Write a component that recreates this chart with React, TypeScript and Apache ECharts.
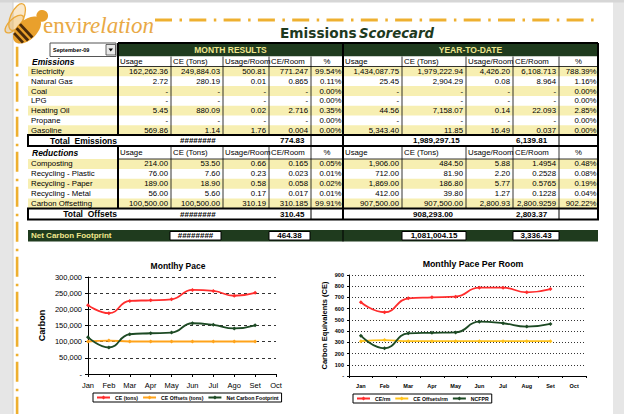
import React, { useEffect, useRef } from "react";
import * as echarts from "echarts";

// ---------- chart data ----------
const months = ["Jan", "Feb", "Mar", "Apr", "May", "Jun", "Jul", "Ago", "Set", "Oct"];
const monthsRoom = ["Jan", "Feb", "Mar", "Apr", "May", "Jun", "Jul", "Aug", "Set", "Oct"];
const ceTons = [213000, 188000, 226000, 228000, 231000, 260000, 257000, 242000, 251045];
const offsetTons = [100500, 103500, 100500, 100500, 100500, 100500, 100500, 100500, 100500];
const netTons = [114000, 82000, 123000, 126000, 128000, 157000, 152000, 141000, 150545];
const ceRoom = [657, 568, 692, 701, 707, 787, 787, 746, 774.83];
const offsetRoom = [310.45, 320, 310.45, 310.45, 310.45, 310.45, 310.45, 310.45, 310.45];
const ncfpr = [359, 247, 380, 385, 388, 484, 470, 440, 464.38];

// ---------- table data ----------
const colHeads = ["Usage", "CE (Tons)", "Usage/Room", "CE/Room", "%"];
const emissionRows = ["Electricity", "Natural Gas", "Coal", "LPG", "Heating Oil", "Propane", "Gasoline"];
const emMonthUsage = ["162,262.36", "2.72", "-", "-", "5.45", "-", "569.86"];
const emMonthCE = ["249,884.03", "280.19", "-", "-", "880.09", "-", "1.14"];
const emMonthUsageRoom = ["500.81", "0.01", "-", "-", "0.02", "-", "1.76"];
const emMonthCERoom = ["771.247", "0.865", "-", "-", "2.716", "-", "0.004"];
const emMonthPct = ["99.54%", "0.11%", "0.00%", "0.00%", "0.35%", "0.00%", "0.00%"];
const emYtdUsage = ["1,434,087.75", "25.45", "-", "-", "44.56", "-", "5,343.40"];
const emYtdCE = ["1,979,222.94", "2,904.29", "-", "-", "7,158.07", "-", "11.85"];
const emYtdUsageRoom = ["4,426.20", "0.08", "-", "-", "0.14", "-", "16.49"];
const emYtdCERoom = ["6,108.713", "8.964", "-", "-", "22.093", "-", "0.037"];
const emYtdPct = ["788.39%", "1.16%", "0.00%", "0.00%", "2.85%", "0.00%", "0.00%"];
const emTotals = ["########", "774.83", "1,989,297.15", "6,139.81"];

const reductionRows = ["Composting", "Recycling - Plastic", "Recycling - Paper", "Recycling - Metal", "Carbon Offsetting"];
const reMonthUsage = ["214.00", "76.00", "189.00", "56.00", "100,500.00"];
const reMonthCE = ["53.50", "7.60", "18.90", "5.60", "100,500.00"];
const reMonthUsageRoom = ["0.66", "0.23", "0.58", "0.17", "310.19"];
const reMonthCERoom = ["0.165", "0.023", "0.058", "0.017", "310.185"];
const reMonthPct = ["0.05%", "0.01%", "0.02%", "0.01%", "99.91%"];
const reYtdUsage = ["1,906.00", "712.00", "1,869.00", "412.00", "907,500.00"];
const reYtdCE = ["484.50", "81.90", "186.80", "39.80", "907,500.00"];
const reYtdUsageRoom = ["5.88", "2.20", "5.77", "1.27", "2,800.93"];
const reYtdCERoom = ["1.4954", "0.2528", "0.5765", "0.1228", "2,800.9259"];
const reYtdPct = ["0.48%", "0.08%", "0.19%", "0.04%", "902.22%"];
const reTotals = ["########", "310.45", "908,293.00", "2,803.37"];
const netTotals = ["########", "464.38", "1,081,004.15", "3,336.43"];

const SANS = "'Liberation Sans', Arial, sans-serif";
const NARROW = "'Liberation Sans Narrow', 'Liberation Sans', Arial, sans-serif";
const DARK = "#1f3b1e";
const YELLOW = "#f7efb2";
const GOLD = "#eeb030";
const COLS = [28, 118, 171, 223, 269, 311, 343, 402, 466, 513, 559, 598];

function buildGraphics(): any[] {
  const g: any[] = [];
  const R = (x: number, y: number, w: number, h: number, fill: string, stroke?: string, lw?: number) =>
    g.push({ type: "rect", silent: true, shape: { x, y, width: w, height: h }, style: { fill, stroke: stroke || null, lineWidth: lw || 0 } });
  const L = (x1: number, y1: number, x2: number, y2: number, lw = 1, stroke = "#000") =>
    g.push({ type: "line", silent: true, shape: { x1, y1, x2, y2 }, style: { stroke, lineWidth: lw } });
  const T = (x: number, y: number, text: string, size: number, o: any = {}) =>
    g.push({
      type: "text", silent: true, x, y,
      style: {
        text, fontSize: size, fontFamily: o.family || SANS, fontWeight: o.weight || "normal",
        fontStyle: o.style || "normal", fill: o.color || "#000",
        align: o.align || "left", textAlign: o.align || "left",
        verticalAlign: "middle", textVerticalAlign: "middle",
      },
    });

  // page background strips
  R(0, 0, 13, 414, "#e6e6e6");
  R(613, 0, 11, 414, "#e6e6e6");
  R(0, 0, 624, 2.5, "#d6d6d6");
  L(13, 0, 13, 414, 1, "#d0d0d0");

  // decorative dash-dot lines
  for (let k = 0; k < 13; k++) {
    const x = 155 + k * 34.3;
    R(x, 18.5, 17, 3, GOLD);
    R(x + 24.5, 18.5, 2.5, 3, GOLD);
  }
  for (let y = 46.7; y < 414; y += 35) {
    R(15.8, y, 2.6, 20, GOLD);
    R(15.8, y + 27, 2.6, 2.5, GOLD);
  }

  // bee logo
  g.push({
    type: "group", x: 27, y: 30, rotation: 0.75, scaleX: 1.3, scaleY: 1.3, silent: true,
    children: [
      { type: "ellipse", shape: { cx: 6, cy: -11, rx: 11, ry: 5 }, rotation: 0.4, style: { fill: "rgba(240,180,80,0.3)", stroke: "#eaa93a", lineWidth: 1 } },
      { type: "ellipse", shape: { cx: -4, cy: -10, rx: 9, ry: 4 }, style: { fill: "rgba(240,180,80,0.25)", stroke: "#eaa93a", lineWidth: 1 } },
      { type: "ellipse", shape: { cx: 0, cy: 0, rx: 13, ry: 7.5 }, style: { fill: "#e9a02c" } },
      { type: "rect", shape: { x: -10, y: -5, width: 2.2, height: 10 }, style: { fill: "#4a2a0a" } },
      { type: "rect", shape: { x: -6, y: -6.5, width: 2.2, height: 13 }, style: { fill: "#4a2a0a" } },
      { type: "rect", shape: { x: -2, y: -7, width: 2.2, height: 14 }, style: { fill: "#4a2a0a" } },
      { type: "circle", shape: { cx: 16, cy: 0, r: 4.5 }, style: { fill: "#e9a02c" } },
    ],
  });
  T(43, 25.5, "envi", 23, { family: "'Liberation Serif', 'DejaVu Serif', serif", color: "#e9a945" });
  T(82, 25.5, "relation", 23, { family: "'Liberation Serif', 'DejaVu Serif', serif", color: "#e9a945", style: "italic" });

  // title
  T(280, 33, "Emissions", 13.7, { family: "'DejaVu Sans', sans-serif", weight: "bold", color: "#1e3a1e" });
  T(359, 33, "Scorecard", 13.3, { family: "'DejaVu Sans', sans-serif", weight: "bold", style: "italic", color: "#1e3a1e" });

  // dropdown
  R(50, 43, 66, 13.5, "#fff", "#555", 1);
  T(53, 50, "September-09", 5.5, { weight: "bold" });
  R(106, 44.5, 9.5, 10.5, "#e8e8e8", "#444", 0.8);
  g.push({ type: "polygon", silent: true, shape: { points: [[108.5, 48.5], [113, 48.5], [110.75, 51.5]] }, style: { fill: "#000" } });

  const drawSection = (
    headerTop: number, headTop: number, rowTop: number, rowH: number,
    labels: string[], cols: string[][], totals: string[], sectionLabel: string, totalLabel: string
  ) => {
    const rowsEnd = rowTop + rowH * labels.length;
    R(118, headTop, 480, rowTop - headTop, "#fff");
    T(32, (headTop + rowTop) / 2, sectionLabel, 8.5, { weight: "bold", style: "italic" });
    for (let b = 0; b < 2; b++) {
      for (let c = 0; c < 5; c++) {
        const ci = 1 + b * 5 + c;
        const cy = (headTop + rowTop) / 2;
        if (c === 4) T((COLS[ci] + COLS[ci + 1]) / 2, cy, colHeads[c], 7.8, { align: "center" });
        else T(COLS[ci] + 2, cy, colHeads[c], 7.8);
      }
    }
    labels.forEach((lab, i) => {
      const y0 = rowTop + i * rowH;
      if (i % 2 === 0) R(28, y0, 570, rowH, YELLOW);
      T(31, y0 + rowH / 2, lab, 7.8);
      cols.forEach((arr, c) => {
        const ci = 1 + c;
        const pad = c === 4 || c === 9 ? 1.5 : 3;
        T(COLS[ci + 1] - pad, y0 + rowH / 2, arr[i], 7.8, { align: "right" });
      });
    });
    for (let ci = 1; ci <= 11; ci++) {
      const thick = ci === 1 || ci === 6 || ci === 11;
      L(COLS[ci], thick ? headerTop : headTop, COLS[ci], rowsEnd, thick ? 2 : 0.8);
    }
    L(118, headerTop, 598, headerTop, 2);
    L(118, rowTop, 598, rowTop, 0.8);
    const tTop = rowsEnd;
    const tH = 11;
    R(28, tTop, 570, tH, "#fff", "#000", 2);
    L(311, tTop, 311, tTop + tH, 1);
    L(343, tTop, 343, tTop + tH, 2);
    L(559, tTop, 559, tTop + tH, 1);
    const ty = tTop + tH / 2;
    T(117, ty, totalLabel, 8.5, { weight: "bold", align: "right" });
    T(180, ty, totals[0], 8, { weight: "bold" });
    T(280, ty, totals[1], 8, { weight: "bold" });
    T(413, ty, totals[2], 8, { weight: "bold" });
    T(516, ty, totals[3], 8, { weight: "bold" });
  };

  R(118, 43, 225, 13.5, DARK);
  R(343, 43, 255, 13.5, DARK);
  T(230.5, 50, "MONTH RESULTS", 8.5, { weight: "bold", color: "#f0e68c", align: "center" });
  T(470.5, 50, "YEAR-TO-DATE", 8.5, { weight: "bold", color: "#f0e68c", align: "center" });

  drawSection(43, 56.5, 66.5, 9.8, emissionRows,
    [emMonthUsage, emMonthCE, emMonthUsageRoom, emMonthCERoom, emMonthPct, emYtdUsage, emYtdCE, emYtdUsageRoom, emYtdCERoom, emYtdPct],
    emTotals, "Emissions", "Total  Emissions");
  drawSection(146, 146, 159, 9.9, reductionRows,
    [reMonthUsage, reMonthCE, reMonthUsageRoom, reMonthCERoom, reMonthPct, reYtdUsage, reYtdCE, reYtdUsageRoom, reYtdCERoom, reYtdPct],
    reTotals, "Reductions", "Total  Offsets");

  R(28, 230, 570, 11.5, DARK);
  L(343, 230, 343, 241.5, 1, "#000");
  T(31, 235.8, "Net Carbon Footprint", 8, { weight: "bold", color: "#f0e68c" });
  const boxes = [[170, 51], [269, 41], [402, 64], [513, 46]];
  boxes.forEach(([bx, bw], i) => {
    R(bx, 231.5, bw, 8.5, "#fff", "#000", 1);
    T(bx + bw / 2, 235.8, netTotals[i], 8, { weight: "bold", align: "center" });
  });

  return g;
}

function buildOption(): any {
  const mk = (name: string, data: number[], color: string, xi: number) => ({
    type: "line", name, data, xAxisIndex: xi, yAxisIndex: xi, smooth: true,
    symbol: "diamond", symbolSize: 4, lineStyle: { color, width: 1.8 }, itemStyle: { color },
  });
  const legendBase = {
    orient: "horizontal", itemWidth: 13, itemHeight: 5, itemGap: 4, padding: [2, 3, 2, 3],
    borderColor: "#000", borderWidth: 1, backgroundColor: "#fff",
    textStyle: { fontSize: 5.2, fontWeight: "bold", color: "#000", fontFamily: SANS },
  };
  return {
    animation: false,
    backgroundColor: "#fff",
    title: [
      { text: "Montlhy Pace", left: 178, top: 261, textAlign: "center", padding: 0, textStyle: { fontSize: 8.5, fontWeight: "bold", color: "#000", fontFamily: SANS } },
      { text: "Monthly Pace Per Room", left: 473, top: 259.5, textAlign: "center", padding: 0, textStyle: { fontSize: 8.8, fontWeight: "bold", color: "#000", fontFamily: SANS } },
    ],
    graphic: { elements: buildGraphics() },
    grid: [
      { left: 88, top: 277, width: 188, height: 97 },
      { left: 349, top: 275, width: 237, height: 101 },
    ],
    xAxis: [
      {
        type: "category", gridIndex: 0, data: months, boundaryGap: false,
        axisLine: { lineStyle: { color: "#000", width: 1 } },
        axisTick: { show: true, length: 3, lineStyle: { color: "#000" } },
        axisLabel: { fontSize: 7.5, color: "#000", margin: 7, interval: 0, fontFamily: SANS },
      },
      {
        type: "category", gridIndex: 1, data: monthsRoom, boundaryGap: true,
        axisLine: { lineStyle: { color: "#000", width: 1 } },
        axisTick: { show: true, length: 2, lineStyle: { color: "#000" } },
        axisLabel: { fontSize: 5.5, fontWeight: "bold", color: "#000", margin: 7, interval: 0, fontFamily: SANS },
      },
    ],
    yAxis: [
      {
        type: "value", gridIndex: 0, min: 0, max: 300000, interval: 50000,
        name: "Carbon", nameLocation: "middle", nameGap: 42, nameRotate: 90,
        nameTextStyle: { fontSize: 9, fontWeight: "bold", color: "#000", fontFamily: NARROW },
        axisLine: { show: true, lineStyle: { color: "#000", width: 1 } },
        axisTick: { show: true, length: 3, lineStyle: { color: "#000" } },
        axisLabel: {
          fontSize: 7.5, color: "#000", margin: 6, fontFamily: SANS,
          formatter: (v: number) => (v === 0 ? "-" : v.toLocaleString("en-US")),
        },
        splitLine: { show: true, lineStyle: { color: "#000", type: [3, 3], width: 0.8 } },
      },
      {
        type: "value", gridIndex: 1, min: 0, max: 900, interval: 100,
        name: "Carbon Equivalents (CE)", nameLocation: "middle", nameGap: 21, nameRotate: 90,
        nameTextStyle: { fontSize: 7.5, fontWeight: "bold", color: "#000", fontFamily: NARROW },
        axisLine: { show: true, lineStyle: { color: "#000", width: 1 } },
        axisTick: { show: true, length: 2, lineStyle: { color: "#000" } },
        axisLabel: {
          fontSize: 5.5, fontWeight: "bold", color: "#000", margin: 5, fontFamily: SANS,
          formatter: (v: number) => (v === 0 ? "-" : String(v)),
        },
        splitLine: { show: true, lineStyle: { color: "#000", type: [1, 2], width: 0.8 } },
      },
    ],
    legend: [
      { ...legendBase, left: 93, top: 393, data: ["CE (tons)", "CE Offsets (tons)", "Net Carbon Footprint"] },
      { ...legendBase, left: 353, top: 394, data: ["CE/rm", "CE Offsets/rm", "NCFPR"] },
    ],
    series: [
      mk("CE (tons)", ceTons, "#ff2d2d", 0),
      mk("CE Offsets (tons)", offsetTons, "#ffa31a", 0),
      mk("Net Carbon Footprint", netTons, "#1d4a24", 0),
      mk("CE/rm", ceRoom, "#ff2d2d", 1),
      mk("CE Offsets/rm", offsetRoom, "#ffc21a", 1),
      mk("NCFPR", ncfpr, "#1d4a24", 1),
    ],
  };
}

export default function App() {
  const ref = useRef<HTMLDivElement>(null);
  useEffect(() => {
    const chart = echarts.init(ref.current!, null, { renderer: "svg" });
    chart.setOption(buildOption());
    return () => chart.dispose();
  }, []);
  return (
    <div
      ref={ref}
      style={{ position: "fixed", left: 0, top: 0, width: 624, height: 414, background: "#fff" }}
    />
  );
}
